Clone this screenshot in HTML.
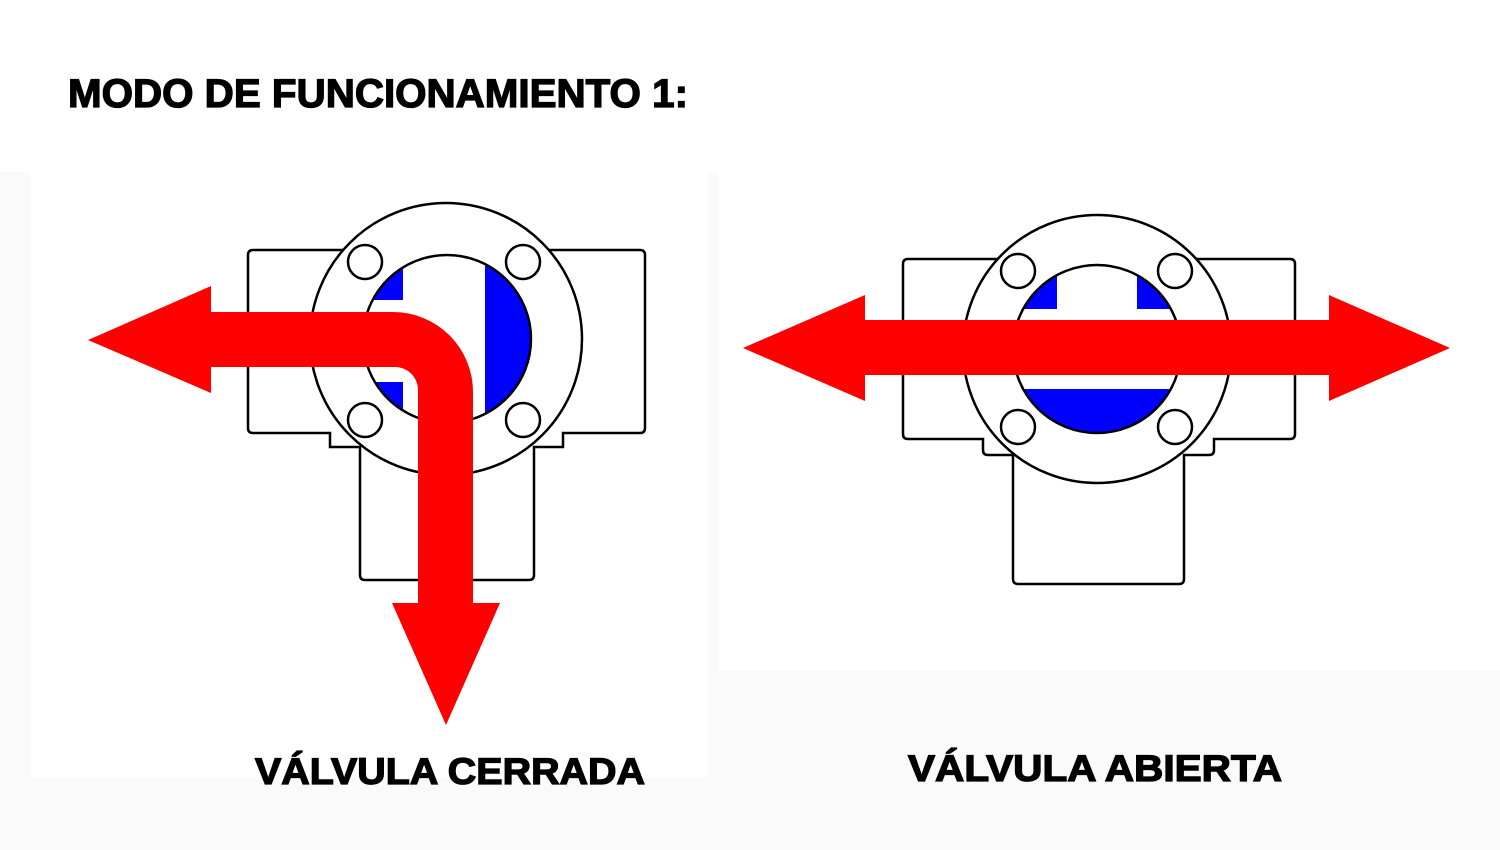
<!DOCTYPE html>
<html><head><meta charset="utf-8"><style>html,body{margin:0;padding:0;background:#fafafb;}svg{display:block}</style></head>
<body>
<svg width="1500" height="850" viewBox="0 0 1500 850" xmlns="http://www.w3.org/2000/svg">
<rect x="0" y="0" width="1500" height="850" fill="#fafafb"/>
<rect x="0" y="0" width="1500" height="172" fill="#ffffff"/>
<rect x="30" y="172" width="677" height="606" fill="#ffffff"/>
<rect x="718" y="172" width="782" height="498" fill="#ffffff"/>
<text x="68" y="107" font-family="Liberation Sans, Arial, sans-serif" font-weight="bold" font-size="40" textLength="620" lengthAdjust="spacingAndGlyphs" fill="#000" stroke="#000" stroke-width="1.3">MODO DE FUNCIONAMIENTO 1:</text>

<!-- Left valve -->
<g stroke="#000" stroke-width="2.5" fill="#fff">
<path d="M253,250 H640 Q645,250 645,255 V428 Q645,433 640,433 H563 V447 H534 V575 Q534,580 529,580 H365 Q360,580 360,575 V447 H330 V433 H253 Q248,433 248,428 V255 Q248,250 253,250 Z"/>
<circle cx="446" cy="339" r="136"/>
</g>
<defs>
<clipPath id="c1"><circle cx="447" cy="339" r="84"/></clipPath>
<clipPath id="c2"><circle cx="1097" cy="349" r="84"/></clipPath>
</defs>
<g clip-path="url(#c1)" fill="#0000ff">
<rect x="485" y="250" width="70" height="180"/>
<rect x="350" y="250" width="53" height="50"/>
<rect x="350" y="382" width="53" height="50"/>
</g>
<g stroke="#000" stroke-width="2.5" fill="none">
<circle cx="447" cy="339" r="84"/>
</g>
<g stroke="#000" stroke-width="2.5" fill="#fff">
<circle cx="365" cy="262" r="17"/><circle cx="523" cy="262" r="17"/>
<circle cx="365" cy="420" r="17"/><circle cx="523" cy="420" r="17"/>
</g>
<g fill="#ff0000">
<path d="M211,312 H393 A80,80 0 0 1 473,392 V603 H500 L446,725 L392,603 H418 V390 A23,23 0 0 0 395,367 H211 V393 L88,340 L211,286 Z"/>
</g>
<text x="255" y="784" font-family="Liberation Sans, Arial, sans-serif" font-weight="bold" font-size="37" textLength="390" lengthAdjust="spacingAndGlyphs" fill="#000" stroke="#000" stroke-width="1.3">VÁLVULA CERRADA</text>

<!-- Right valve -->
<g stroke="#000" stroke-width="2.5" fill="#fff">
<path d="M908,259 H1290 Q1295,259 1295,264 V434 Q1295,439 1290,439 H1214 V450 Q1214,455 1209,455 H1184 V579 Q1184,584 1179,584 H1018 Q1013,584 1013,579 V455 H988 Q983,455 983,450 V439 H908 Q903,439 903,434 V264 Q903,259 908,259 Z"/>
<circle cx="1097" cy="349" r="134"/>
</g>
<g clip-path="url(#c2)" fill="#0000ff">
<rect x="1000" y="389" width="200" height="60"/>
<rect x="1000" y="250" width="57" height="59"/>
<rect x="1137" y="250" width="60" height="59"/>
</g>
<g stroke="#000" stroke-width="2.5" fill="none">
<circle cx="1097" cy="349" r="84"/>
</g>
<g stroke="#000" stroke-width="2.5" fill="#fff">
<circle cx="1018" cy="271" r="17"/><circle cx="1175" cy="271" r="17"/>
<circle cx="1018" cy="427" r="17"/><circle cx="1175" cy="427" r="17"/>
</g>
<path fill="#ff0000" d="M743,348 L865,295 V320 H1329 V295 L1450,348 L1329,401 V375 H865 V401 Z"/>
<text x="908" y="781" font-family="Liberation Sans, Arial, sans-serif" font-weight="bold" font-size="37" textLength="374" lengthAdjust="spacingAndGlyphs" fill="#000" stroke="#000" stroke-width="1.3">VÁLVULA ABIERTA</text>
</svg>
</body></html>
